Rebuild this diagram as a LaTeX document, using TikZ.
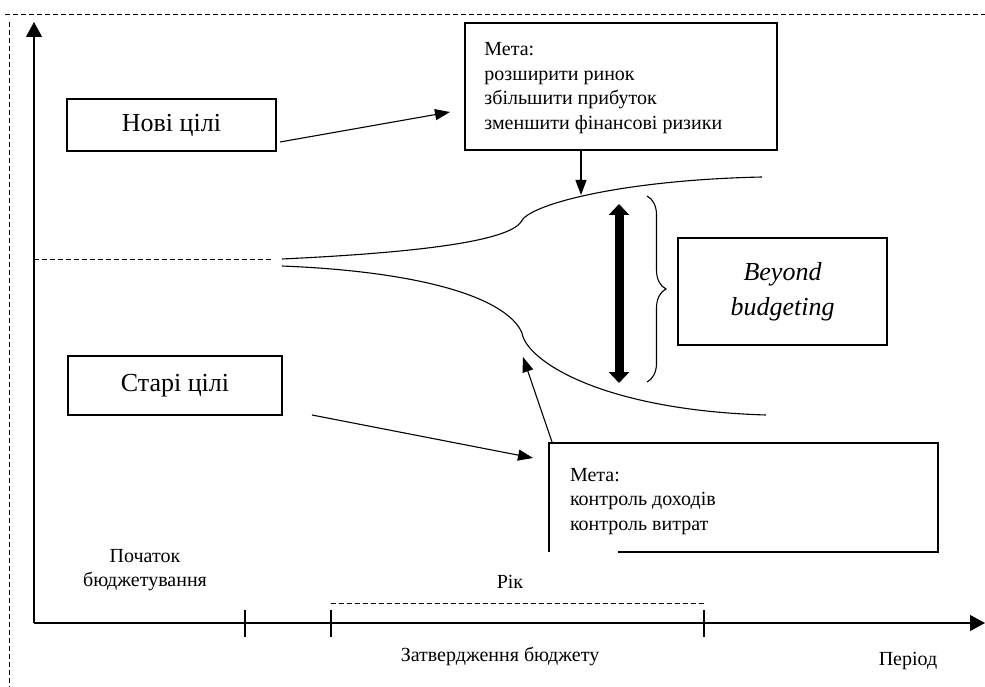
\documentclass[tikz,border=0pt]{standalone}
\usepackage{fontspec}
\setmainfont{Liberation Serif}
\usetikzlibrary{arrows.meta,decorations.pathreplacing,calc}
\begin{document}
\begin{tikzpicture}[x=1pt,y=-1pt,
  box/.style={draw,line width=1.5pt,inner sep=0pt},
  ln/.style={line width=1.1pt},
  arr/.style={ln,-{Triangle[length=15pt,width=11pt]}},
  dsh/.style={line width=1pt,dash pattern=on 5pt off 3pt},
  small/.style={font=\fontsize{20}{24.5}\selectfont},
  big/.style={font=\fontsize{26}{32}\selectfont}]
\useasboundingbox (0,0) rectangle (985,687);
% frame
\draw[dsh] (5,15) -- (985,15);
\draw[dsh] (9,22) -- (9,687);
% axes
\coordinate (O) at (34,623);
\coordinate (Ytop) at (34,22);
\coordinate (Xend) at (985,623);
\draw[ln,-{Triangle[length=15pt,width=16pt]}] (O) -- (Ytop);
\draw[ln,-{Triangle[length=15pt,width=16pt]}] (O) -- (Xend);
\coordinate (t1) at (245,610); \coordinate (t1b) at (245,637);
\coordinate (t2) at (331,610); \coordinate (t2b) at (331,637);
\coordinate (t3) at (704,610); \coordinate (t3b) at (704,637);
\draw[ln] (t1) -- (t1b);
\draw[ln] (t2) -- (t2b);
\draw[ln] (t3) -- (t3b);
\coordinate (r1) at (331,603); \coordinate (r2) at (704,603);
\draw[dsh] (r1) -- (r2);
% labels
\node[small,align=center] (poch) at (145,570) {Початок\\бюджетування};
\node[small] (rik) at (510,582) {Рік};
\node[small] (zatv) at (500,656) {Затвердження бюджету};
\node[small] (per) at (908,661) {Період};
% boxes
\node[box,big,minimum width=209pt,minimum height=52pt] (nov) at (171.5,125) {Нові цілі};
\node[box,big,minimum width=214pt,minimum height=59pt] (star) at (175,385.5) {Старі цілі};
\node[box,minimum width=312pt,minimum height=127pt] (tb) at (621,86.5) {};
\node[small,align=left,anchor=north west,inner sep=0pt] (tbt) at ($(tb.north west)+(20,20)$)
  {Мета:\\розширити ринок\\збільшити прибуток\\зменшити фінансові ризики};
\node[inner sep=0pt,minimum width=389pt,minimum height=109pt] (lb) at (743.5,497.5) {};
\node[small,align=left,anchor=north west,inner sep=0pt] (lbt) at ($(lb.north west)+(21,25)$)
  {Мета:\\контроль доходів\\контроль витрат};
\draw[line width=1.5pt] (lb.south west) -- (lb.north west) -- (lb.north east) -- (lb.south east) -- ($(lb.south west)+(69,0)$);
\node[box,big,align=center,minimum width=209pt,minimum height=107pt,font=\fontsize{26}{35}\selectfont\itshape] (bb) at (782.5,291.5) {Beyond\\budgeting};
% reference dashed line and curves
\coordinate (d1) at (34,259); \coordinate (d2) at (273,259);
\draw[dsh] (d1) -- (d2);
\draw[ln] (282,259) .. controls (430,252) and (508,240) .. (521,222) .. controls (527,205) and (620,180) .. (762,177);
\draw[ln] (282,266) .. controls (430,272) and (508,300) .. (522,333) .. controls (526,360) and (600,410) .. (766,415);
% arrows
\coordinate (a1s) at (280,142); \coordinate (a1e) at (450,112);
\draw[arr] (a1s) -- (a1e);
\coordinate (a2s) at (312,415); \coordinate (a2e) at (533,458);
\draw[arr] (a2s) -- (a2e);
\coordinate (a3s) at (581,150); \coordinate (a3e) at (581,195);
\draw[arr] (a3s) -- (a3e);
\coordinate (a4s) at (552,442); \coordinate (a4e) at (523,357);
\draw[arr] (a4s) -- (a4e);
% thick double arrow
\coordinate (da1) at (619,204); \coordinate (da2) at (619,383);
\draw[line width=9pt,{Triangle[length=11pt,width=20pt]}-{Triangle[length=11pt,width=20pt]}] (da1) -- (da2);
% brace
\coordinate (br1) at (647,196); \coordinate (br2) at (647,382);
\draw[ln,decorate,decoration={brace,amplitude=19pt}] (br1) -- (br2);
\end{tikzpicture}
\end{document}
